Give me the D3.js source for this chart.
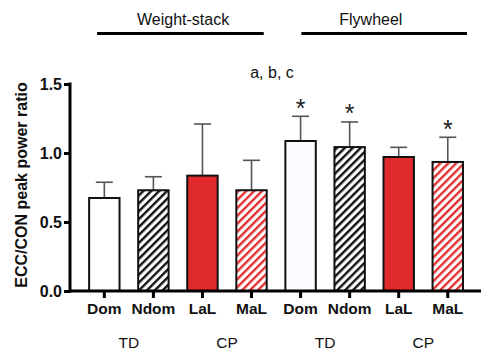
<!DOCTYPE html>
<html><head><meta charset="utf-8">
<script src="https://cdn.jsdelivr.net/npm/d3@7"></script>
<style>body{margin:0;background:#fff}svg{display:block}text{font-family:"Liberation Sans",Arial,sans-serif}</style>
</head><body><svg id="c" width="487" height="356"></svg>
<script>
const categories = ["Dom","Ndom","LaL","MaL","Dom","Ndom","LaL","MaL"];
const means = [0.674, 0.73, 0.836, 0.73, 1.087, 1.043, 0.971, 0.935];
const errTop = [0.788, 0.828, 1.21, 0.947, 1.266, 1.225, 1.041, 1.114];
const fills = ["white","hatchBlack","red","hatchRed","#fdfbff","hatchBlack","red","hatchRed"];
const stars = [false,false,false,false,true,true,false,true];
const yTicks = [0.0, 0.5, 1.0, 1.5];
const groupLabels = ["TD","CP","TD","CP"];
const conditions = ["Weight-stack","Flywheel"];

const svg = d3.select("#c");
const y = d3.scaleLinear().domain([0,1.5]).range([291,84]);
const x = d3.scaleBand().domain(d3.range(8)).range([79.8,472.3]).paddingInner(0.38).paddingOuter(0.19);
const bw = x.bandwidth();

const defs = svg.append("defs");
function hatch(id,color){
  const p = defs.append("pattern").attr("id",id).attr("patternUnits","userSpaceOnUse")
    .attr("width",5.6).attr("height",5.6).attr("patternTransform","rotate(45)");
  p.append("rect").attr("width",5.6).attr("height",5.6).attr("fill","white");
  p.append("rect").attr("x",0).attr("width",2.4).attr("height",5.6).attr("fill",color);
}
hatch("hatchBlack","#111");
hatch("hatchRed","#e2302f");
const fillOf = f => f==="hatchBlack"?"url(#hatchBlack)":f==="hatchRed"?"url(#hatchRed)":f==="red"?"#e02a2c":f;

// error bars
const eb = svg.append("g");
means.forEach((m,i)=>{
  const cx = x(i)+bw/2;
  eb.append("line").attr("x1",cx).attr("x2",cx).attr("y1",y(m)).attr("y2",y(errTop[i])).attr("stroke","#555").attr("stroke-width",1.6);
  eb.append("line").attr("x1",cx-8.5).attr("x2",cx+8.5).attr("y1",y(errTop[i])).attr("y2",y(errTop[i])).attr("stroke","#555").attr("stroke-width",1.6);
});

// bars
svg.append("g").selectAll("rect").data(means).join("rect")
  .attr("x",(d,i)=>x(i)).attr("width",bw)
  .attr("y",d=>y(d)).attr("height",d=>y(0)-y(d))
  .attr("fill",(d,i)=>fillOf(fills[i])).attr("stroke","#111").attr("stroke-width",2);

// stars
const starData = d3.range(8).filter(i=>stars[i]);
svg.append("g").selectAll("text").data(starData).join("text")
  .attr("x",i=>x(i)+bw/2).attr("y",i=>y(errTop[i])+0.5)
  .attr("text-anchor","middle").attr("font-size",25).attr("fill","#222").text("*");

// y axis
const ya = svg.append("g").attr("transform","translate(70,0)")
  .call(d3.axisLeft(y).tickValues(yTicks).tickFormat(d3.format(".1f")).tickSize(6).tickPadding(2));
ya.select(".domain").attr("stroke","#000").attr("stroke-width",3).attr("d","M0,82.5V292.5");
ya.selectAll(".tick line").attr("stroke","#000").attr("stroke-width",3);
ya.selectAll(".tick text").attr("font-size",16).attr("font-weight","bold").attr("fill","#111").attr("font-family","Liberation Sans, Arial, sans-serif");

// x axis
const xa = svg.append("g").attr("transform","translate(0,291)")
  .call(d3.axisBottom(x).tickFormat(i=>categories[i]).tickSize(7).tickPadding(5));
xa.select(".domain").attr("stroke","#000").attr("stroke-width",3).attr("d","M68.5,0H481");
xa.selectAll(".tick line").attr("stroke","#000").attr("stroke-width",3);
xa.selectAll(".tick text").attr("font-size",15.5).attr("font-weight","bold").attr("fill","#111").attr("font-family","Liberation Sans, Arial, sans-serif");

// group labels
groupLabels.forEach((g,k)=>{
  const cx = (x(2*k)+x(2*k+1)+bw)/2;
  svg.append("text").attr("x",cx).attr("y",348).attr("text-anchor","middle").attr("font-size",15.5).attr("fill","#111").text(g);
});

// condition headers
const lineStartOff = [8, 16], lineEndOff = [-3, 4], textOff = [14.5, 6];
conditions.forEach((c,k)=>{
  const x0 = x(4*k)+lineStartOff[k], x1 = x(4*k+3)+bw+lineEndOff[k];
  svg.append("line").attr("x1",x0).attr("x2",x1).attr("y1",33.5).attr("y2",33.5).attr("stroke","#000").attr("stroke-width",3);
  svg.append("text").attr("x",x(4*k+1)+bw+textOff[k]).attr("y",25).attr("text-anchor","middle").attr("font-size",16).attr("fill","#111").text(c);
});

svg.append("text").attr("x",272).attr("y",78).attr("text-anchor","middle").attr("font-size",16).attr("fill","#111").text("a, b, c");

// y label
svg.append("text").attr("transform","translate(27,185) rotate(-90)").attr("text-anchor","middle")
  .attr("font-size",16).attr("font-weight","bold").attr("fill","#111").text("ECC/CON peak power ratio");
</script></body></html>
